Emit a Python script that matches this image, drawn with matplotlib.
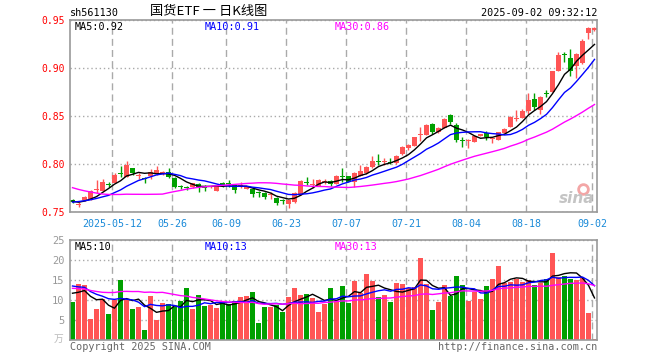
import numpy as np
import pandas as pd
import matplotlib
matplotlib.use("Agg")
import matplotlib.pyplot as plt

W, H = 660, 360

# trading days shown (88 sessions)
holidays = ["2025-05-01", "2025-05-02", "2025-05-05", "2025-06-02"]
dates = [d for d in pd.bdate_range("2025-04-28", "2025-09-02")
         if d.strftime("%Y-%m-%d") not in holidays]

opens = [0.7630, 0.7575, 0.7625, 0.7632, 0.7730, 0.7722, 0.7792, 0.7806, 0.7910, 0.7868,
         0.7955, 0.7878, 0.7848, 0.7879, 0.7896, 0.7896, 0.7913, 0.7850, 0.7767, 0.7757,
         0.7757, 0.7788, 0.7760, 0.7760, 0.7720, 0.7799, 0.7797, 0.7781, 0.7769, 0.7740,
         0.7736, 0.7704, 0.7702, 0.7675, 0.7643, 0.7617, 0.7587, 0.7601, 0.7677, 0.7808,
         0.7779, 0.7771, 0.7814, 0.7827, 0.7793, 0.7871, 0.7876, 0.7817, 0.7876, 0.7903,
         0.7966, 0.8028, 0.8023, 0.8025, 0.8008, 0.8101, 0.8164, 0.8188, 0.8300, 0.8303,
         0.8414, 0.8337, 0.8372, 0.8511, 0.8407, 0.8247, 0.8238, 0.8233, 0.8292, 0.8320,
         0.8259, 0.8250, 0.8320, 0.8390, 0.8468, 0.8483, 0.8553, 0.8677, 0.8563, 0.8732,
         0.8747, 0.8969, 0.9138, 0.9108, 0.9020, 0.9049, 0.9361, 0.9396]
highs = [0.7635, 0.7600, 0.7667, 0.7730, 0.7834, 0.7840, 0.7816, 0.7903, 0.7980, 0.8031,
         0.7960, 0.7903, 0.7861, 0.7945, 0.7980, 0.7930, 0.7955, 0.7860, 0.7780, 0.7771,
         0.7806, 0.7799, 0.7780, 0.7775, 0.7778, 0.7808, 0.7834, 0.7785, 0.7810, 0.7771,
         0.7740, 0.7723, 0.7705, 0.7712, 0.7660, 0.7632, 0.7628, 0.7712, 0.7834, 0.7868,
         0.7840, 0.7840, 0.7840, 0.7834, 0.7885, 0.7955, 0.7880, 0.7920, 0.7990, 0.7980,
         0.8087, 0.8105, 0.8060, 0.8060, 0.8095, 0.8188, 0.8205, 0.8285, 0.8390, 0.8417,
         0.8431, 0.8389, 0.8476, 0.8518, 0.8424, 0.8285, 0.8261, 0.8295, 0.8315, 0.8344,
         0.8285, 0.8335, 0.8370, 0.8497, 0.8563, 0.8573, 0.8737, 0.8737, 0.8705, 0.8771,
         0.8972, 0.9163, 0.9163, 0.9200, 0.9156, 0.9300, 0.9430, 0.9430]
lows = [0.7590, 0.7556, 0.7618, 0.7630, 0.7695, 0.7720, 0.7757, 0.7800, 0.7860, 0.7865,
        0.7890, 0.7840, 0.7799, 0.7840, 0.7890, 0.7890, 0.7855, 0.7747, 0.7736, 0.7729,
        0.7750, 0.7712, 0.7720, 0.7745, 0.7715, 0.7764, 0.7764, 0.7695, 0.7747, 0.7735,
        0.7653, 0.7653, 0.7639, 0.7632, 0.7573, 0.7580, 0.7546, 0.7598, 0.7675, 0.7781,
        0.7750, 0.7768, 0.7792, 0.7771, 0.7790, 0.7817, 0.7812, 0.7765, 0.7870, 0.7900,
        0.7960, 0.7990, 0.7990, 0.8005, 0.8005, 0.8098, 0.8150, 0.8185, 0.8244, 0.8300,
        0.8313, 0.8327, 0.8370, 0.8417, 0.8233, 0.8181, 0.8164, 0.8230, 0.8290, 0.8250,
        0.8216, 0.8245, 0.8318, 0.8388, 0.8450, 0.8480, 0.8518, 0.8563, 0.8518, 0.8702,
        0.8745, 0.8965, 0.9066, 0.8920, 0.8896, 0.9045, 0.9300, 0.9385]
closes = [0.7600, 0.7580, 0.7660, 0.7722, 0.7738, 0.7816, 0.7785, 0.7889, 0.7896, 0.7990,
          0.7903, 0.7885, 0.7842, 0.7920, 0.7938, 0.7920, 0.7868, 0.7764, 0.7762, 0.7752,
          0.7799, 0.7764, 0.7755, 0.7765, 0.7775, 0.7778, 0.7793, 0.7730, 0.7773, 0.7764,
          0.7688, 0.7700, 0.7660, 0.7679, 0.7598, 0.7613, 0.7625, 0.7702, 0.7827, 0.7804,
          0.7783, 0.7834, 0.7818, 0.7796, 0.7876, 0.7867, 0.7817, 0.7910, 0.7931, 0.7966,
          0.8035, 0.8024, 0.8027, 0.8008, 0.8084, 0.8174, 0.8198, 0.8278, 0.8305, 0.8407,
          0.8337, 0.8372, 0.8466, 0.8441, 0.8251, 0.8242, 0.8242, 0.8292, 0.8313, 0.8282,
          0.8263, 0.8330, 0.8365, 0.8494, 0.8472, 0.8553, 0.8667, 0.8598, 0.8702, 0.8728,
          0.8969, 0.9136, 0.9134, 0.8969, 0.9145, 0.9281, 0.9413, 0.9420]
# volume, 万
volumes = [9.58, 14.0, 13.75, 5.25, 7.75, 10.25, 6.5, 10.0, 15.0, 10.0,
           7.75, 8.33, 2.5, 11.0, 5.0, 9.33, 9.0, 8.33, 9.83, 13.0,
           7.75, 11.25, 8.5, 8.75, 8.1, 9.33, 9.0, 9.83, 10.83, 11.0,
           12.08, 4.33, 8.25, 8.25, 8.75, 7.08, 10.83, 13.0, 11.25, 11.58,
           10.5, 7.08, 9.0, 13.0, 9.83, 13.5, 9.33, 14.83, 11.67, 16.5,
           14.75, 10.75, 11.25, 9.58, 14.33, 14.0, 12.92, 13.17, 20.5, 14.0,
           7.5, 9.58, 13.75, 11.0, 16.0, 13.75, 9.83, 12.08, 10.25, 13.5,
           15.25, 18.5, 14.17, 14.58, 15.17, 14.58, 15.0, 13.75, 14.17, 15.25,
           21.75, 15.83, 16.0, 15.17, 15.0, 15.42, 6.75, 0.25]

# sessions before the window (only feed the moving averages)
prior_closes = [0.812, 0.810, 0.809, 0.808, 0.811,
                0.792, 0.790, 0.788, 0.791, 0.793, 0.789, 0.786, 0.790, 0.792, 0.788,
                0.745, 0.738, 0.742, 0.735, 0.748,
                0.752, 0.758, 0.762, 0.760, 0.765, 0.763, 0.760, 0.762, 0.761]
prior_volumes = [16.5, 15.8, 16.9, 15.2, 16.6,
                 8.2, 9.5, 7.8, 8.9, 9.1, 8.0, 8.6, 9.3, 8.4, 7.9,
                 17.2, 16.4, 18.1, 16.8, 17.5,
                 16.2, 14.8, 15.9, 14.6, 15.0,
                 12.8, 11.6, 12.5, 12.0]

tick_dates = ["2025-05-12", "2025-05-26", "2025-06-09", "2025-06-23", "2025-07-07",
              "2025-07-21", "2025-08-04", "2025-08-18", "2025-09-02"]

ma_windows = [5, 10, 30]
ma_colors = ["black", "#0000ff", "#ff00ff"]

RED = "#ff5555"
GREEN = "#00a000"
FRAME = "#999999"
GRID = "#aaaaaa"
MONO = "DejaVu Sans Mono"

n = len(closes)
x = np.arange(n)
o, h, l, c = map(np.array, (opens, highs, lows, closes))
v = np.array(volumes)
up = c >= o
cols = np.where(up, RED, GREEN)


def moving(prior, values, w):
    s = pd.Series(list(prior) + list(values)).rolling(w).mean()
    return s.values[len(prior):]


price_ma = [moving(prior_closes, closes, w) for w in ma_windows]
vol_ma = [moving(prior_volumes, volumes, w) for w in ma_windows]

fig = plt.figure(figsize=(W / 100, H / 100), dpi=100)
ax = fig.add_axes([70 / W, 1 - 212 / H, 527 / W, 192 / H])
axv = fig.add_axes([70 / W, 1 - 340 / H, 527 / W, 100 / H])

tick_pos = [dates.index(pd.Timestamp(d)) - 0.4 for d in tick_dates]
tick_lab = [tick_dates[0]] + [d[5:] for d in tick_dates[1:]]

for a in (ax, axv):
    a.set_xlim(-0.417, n - 1 + 0.417)
    for s in a.spines.values():
        s.set_color(FRAME)
        s.set_linewidth(1.2)
    a.set_xticks(tick_pos)
    a.tick_params(length=0)
    a.grid(axis="x", color=GRID, linestyle=(0, (5, 3)), linewidth=1)
    a.grid(axis="y", color=GRID, linestyle=(0, (1, 2)), linewidth=1)
    a.set_axisbelow(True)

# candles
ax.vlines(x, l, h, colors=cols, linewidth=1)
body = np.maximum(np.abs(c - o), 0.0009)
ax.bar(x, body, bottom=np.minimum(o, c), width=0.8, color=cols, linewidth=0)
for m, col in zip(price_ma, ma_colors):
    ax.plot(x, m, color=col, linewidth=1)
ax.set_ylim(0.75, 0.95)
ax.set_yticks([0.75, 0.80, 0.85, 0.90, 0.95])
ax.set_yticklabels([f"{t:.2f}" for t in ax.get_yticks()], color="red",
                   family=MONO, fontsize=7)
ax.set_xticklabels(tick_lab, color="#1a8ad8", family=MONO, fontsize=7.2)
ax.tick_params(axis="y", pad=4)
ax.tick_params(axis="x", pad=5)

# watermark
ax.plot([0.974], [0.12], marker="o", ms=7, mfc="none", mec="#f3a6a6", mew=2,
        transform=ax.transAxes)
ax.text(0.995, 0.03, "sina", transform=ax.transAxes, ha="right", va="bottom",
        fontsize=11, fontstyle="italic", fontweight="bold", color="#c4c4c4")

# volume
axv.bar(x, v, width=0.8, color=cols, linewidth=0)
for m, col in zip(vol_ma, ma_colors):
    axv.plot(x, m, color=col, linewidth=1)
axv.set_ylim(0, 25)
axv.set_yticks([5, 10, 15, 20, 25])
axv.set_yticklabels(["5", "10", "15", "20", "25"], color="#999999",
                    family=MONO, fontsize=7.5)
axv.set_xticklabels([])
axv.tick_params(axis="y", pad=4)


def px(xp, yp):
    return xp / W, 1 - yp / H


fig.text(*px(70, 13), "sh561130", family=MONO, fontsize=7.3, va="center", ha="left")
fig.text(*px(209, 11.5), "国货ETF 一 日K线图", family=["Noto Sans CJK SC", "DejaVu Sans"],
         fontsize=9.5, va="center", ha="center")
fig.text(*px(597, 13), "2025-09-02 09:32:12", family=MONO, fontsize=7.3,
         va="center", ha="right")

label_x = [75, 205, 335]
for w, m, col, lx in zip(ma_windows, price_ma, ma_colors, label_x):
    fig.text(*px(lx, 26.5), f"MA{w}:{m[-1]:.2f}", color=col, family=MONO,
             fontsize=7.3, va="center", ha="left")
for w, m, col, lx in zip(ma_windows, vol_ma, ma_colors, label_x):
    fig.text(*px(lx, 246.5), f"MA{w}:{int(m[-1])}", color=col, family=MONO,
             fontsize=7.3, va="center", ha="left")

fig.text(*px(63, 339), "万", family=["Noto Sans CJK SC", "DejaVu Sans"],
         fontsize=7, color="#bbbbbb", va="center", ha="right")
fig.text(*px(70, 346.5), "Copyright 2025 SINA.COM", family=MONO, fontsize=7.3,
         color="#666666", va="center", ha="left")
fig.text(*px(597, 346.5), "http://finance.sina.com.cn", family=MONO, fontsize=7.3,
         color="#666666", va="center", ha="right")

fig.savefig("out.png", dpi=100, facecolor="white")
